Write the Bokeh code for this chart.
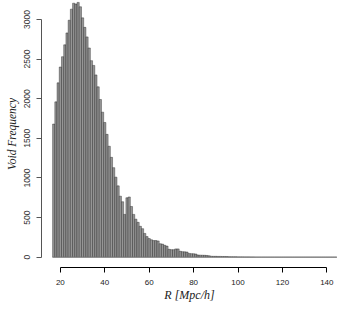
from bokeh.plotting import figure
from bokeh.embed import file_html
from bokeh.resources import INLINE
from bokeh.models import Range1d, FixedTicker

# Histogram of void radii, bins of width 1 Mpc/h, centred on 17..144
bin_centers = list(range(17, 145))
counts = [
    1680, 1960, 2200, 2400, 2530, 2680, 2830, 2990, 3130, 3205,   # 17-26
    3195, 3215, 3160, 3020, 2900, 2780, 2640, 2480, 2420, 2300,   # 27-36
    2150, 1990, 1830, 1700, 1550, 1400, 1260, 1130, 1010, 900,    # 37-46
    770, 700, 540, 750, 760, 640, 540, 480, 440, 390,             # 47-56
    360, 300, 260, 235, 220, 210, 210, 205, 170, 165,             # 57-66
    150, 140, 100, 95, 95, 105, 105, 75, 70, 68,                  # 67-76
    65, 48, 45, 44, 40, 28, 26, 25, 24, 22,                       # 77-86
    18, 12, 11, 11, 10, 10, 9, 9, 8, 6,                           # 87-96
    5, 5, 5, 4, 4, 4, 3, 3, 3, 2,                                 # 97-106
    2,                                                            # 107
] + [0] * (144 - 107)

x_ticks = [20, 40, 60, 80, 100, 120, 140]
y_ticks = [0, 500, 1000, 1500, 2000, 2500, 3000]

left_edges = [c - 0.5 for c in bin_centers]
right_edges = [c + 0.5 for c in bin_centers]

p = figure(width=341, height=309, output_backend="svg", toolbar_location=None,
           x_range=Range1d(11.5, 144.8), y_range=Range1d(-130, 3239),
           min_border_left=41, min_border_right=4, min_border_top=0,
           min_border_bottom=42)
p.outline_line_color = None
p.xgrid.visible = False
p.ygrid.visible = False
p.background_fill_color = "white"

p.quad(left=left_edges, right=right_edges, bottom=0, top=counts,
       fill_color="#969696", line_color="black", line_width=0.35)
p.segment(x0=[left_edges[0]], y0=[0], x1=[right_edges[-1]], y1=[0],
          line_color="#888888", line_width=1)

xa = p.xaxis[0]
xa.ticker = FixedTicker(ticks=x_ticks)
xa.bounds = (20, 140)
xa.axis_label = "R [Mpc/h]"
xa.axis_label_text_font = "Liberation Serif"
xa.axis_label_text_font_style = "italic"
xa.axis_label_text_font_size = "12px"
xa.axis_label_text_color = "#222222"
xa.axis_label_standoff = 0
xa.major_label_text_font = "Liberation Sans"
xa.major_label_text_font_size = "8px"
xa.major_label_text_color = "#222222"
xa.major_label_standoff = 7
xa.major_tick_out = 5
xa.major_tick_in = 0
xa.minor_tick_out = 0
xa.minor_tick_in = 0
xa.axis_line_color = "black"
xa.major_tick_line_color = "black"

ya = p.yaxis[0]
ya.ticker = FixedTicker(ticks=y_ticks)
ya.bounds = (0, 3000)
ya.axis_label = "Void Frequency"
ya.axis_label_text_font = "Liberation Serif"
ya.axis_label_text_font_style = "italic"
ya.axis_label_text_font_size = "11.5px"
ya.axis_label_text_color = "#222222"
ya.axis_label_standoff = 4
ya.major_label_text_font = "Liberation Sans"
ya.major_label_text_font_size = "8.5px"
ya.major_label_text_color = "#333333"
ya.major_label_orientation = "vertical"
ya.major_label_standoff = 6
ya.major_tick_out = 5
ya.major_tick_in = 0
ya.minor_tick_out = 0
ya.minor_tick_in = 0
ya.axis_line_color = "#555555"
ya.major_tick_line_color = "#555555"

open("out.html", "w").write(file_html(p, INLINE))
